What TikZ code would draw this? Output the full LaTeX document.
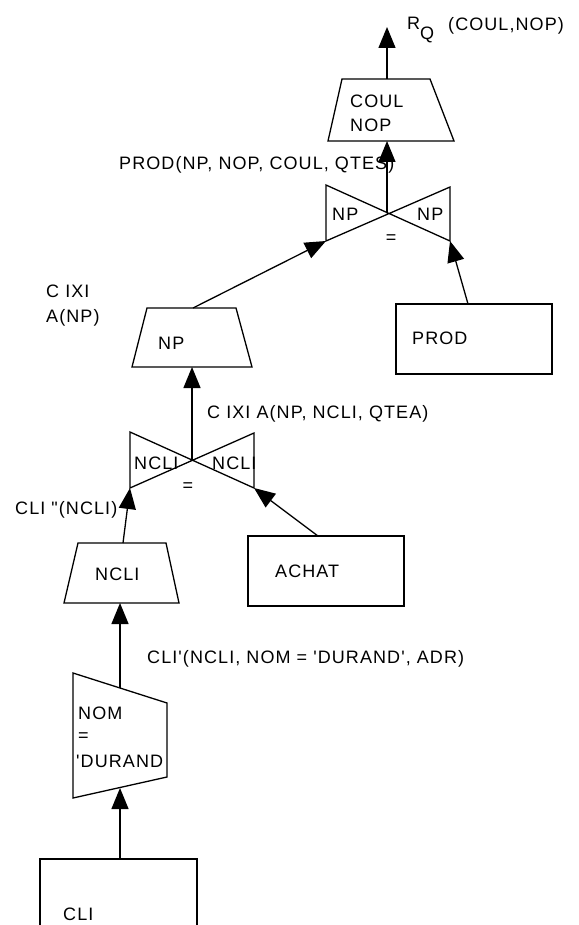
\documentclass[tikz,border=0pt]{standalone}
\usepackage{fontspec}
\setmainfont{Liberation Sans}[Ligatures=TeXOff,LetterSpace=6]
\usetikzlibrary{arrows.meta}
\begin{document}
\begin{tikzpicture}[x=1pt,y=-1pt,
  shp/.style={draw=black,line width=1.3pt,line join=miter},
  arr/.style={draw=black,line width=1.3pt,-{Triangle[length=21pt,width=17pt]}},
  lbl/.style={anchor=base west,inner sep=0pt,font=\fontsize{18}{21}\selectfont},
  eq/.style={anchor=center,inner sep=0pt,font=\fontsize{18}{21}\selectfont}]
\useasboundingbox (0,0) rectangle (578,925);
\clip (0,0) rectangle (578,925);
% coordinates
\coordinate (rq) at (387,27);
\coordinate (t1top) at (387,79);
\coordinate (t1bot) at (387,141);
\coordinate (j1) at (387,213);
\coordinate (j1l) at (326,241);
\coordinate (j1r) at (450,241);
\coordinate (t2top) at (193,308);
\coordinate (t2bot) at (192,367);
\coordinate (prodtop) at (468,304);
\coordinate (j2) at (192,460);
\coordinate (j2l) at (130,488);
\coordinate (j2r) at (254,488);
\coordinate (t3top) at (123,543);
\coordinate (t3bot) at (120,603);
\coordinate (achattop) at (318,536);
\coordinate (stop) at (120,688);
\coordinate (sbot) at (120,788);
\coordinate (clitop) at (120,859);
% shapes
\draw[shp] (342,79) -- (430,79) -- (454,141) -- (328,141) -- cycle;
\draw[shp] (326,185) -- (450,241) -- (450,187) -- (326,241) -- cycle;
\draw[shp] (147,308) -- (236,308) -- (252,367) -- (132,367) -- cycle;
\draw[shp] (396,304) rectangle (552,374);
\draw[shp] (130,432) -- (254,488) -- (254,433) -- (130,488) -- cycle;
\draw[shp] (78,543) -- (166,543) -- (179,603) -- (64,603) -- cycle;
\draw[shp] (248,536) rectangle (404,606);
\draw[shp] (73,673) -- (167,703) -- (167,777) -- (73,798) -- cycle;
\draw[shp] (40,940) -- (40,859) -- (197,859) -- (197,940);
% connectors
\draw[arr] (t1top) -- (rq);
\draw[arr] (j1) -- (t1bot);
\draw[arr] (t2top) -- (j1l);
\draw[arr] (prodtop) -- (j1r);
\draw[arr] (j2) -- (t2bot);
\draw[arr] (t3top) -- (j2l);
\draw[arr] (achattop) -- (j2r);
\draw[arr] (stop) -- (t3bot);
\draw[arr] (clitop) -- (sbot);
% texts
\node[lbl] (rqlbl) at (407,30) {R\raisebox{-10pt}{Q}};
\node[lbl] (rqattr) at (448,31) {(COUL,NOP)};
\node[lbl] (coul) at (350,108) {COUL};
\node[lbl] (nop) at (350,132) {NOP};
\node[lbl] (prodrel) at (119,170) {PROD(NP, NOP, COUL, QTES)};
\node[lbl] (j1lnp) at (332,221) {NP};
\node[lbl] (j1rnp) at (417,221) {NP};
\node[eq] (j1eq) at (391,239) {=};
\node[lbl] (cixi1) at (46,297) {C IXI};
\node[lbl] (cixi2) at (46,322) {A(NP)};
\node[lbl] (nplbl) at (158,349) {NP};
\node[lbl] (prodlbl) at (412,344) {PROD};
\node[lbl] (cixirel) at (207,418) {C IXI A(NP, NCLI, QTEA)};
\node[lbl] (j2lncli) at (134,469) {NCLI};
\node[lbl] (j2rncli) at (212,469) {NCLI};
\node[eq] (j2eq) at (188,487) {=};
\node[lbl] (clipp) at (15,514) {CLI "(NCLI)};
\node[lbl] (ncli) at (95,580) {NCLI};
\node[lbl] (achat) at (275,577) {ACHAT};
\node[lbl] (clip) at (147,663) {CLI'(NCLI, NOM = 'DURAND', ADR)};
\node[lbl] (nom) at (78,719) {NOM};
\node[eq,anchor=west] (nomeq) at (78,737) {=};
\node[lbl] (durand) at (76,767) {'DURAND};
\node[lbl] (cli) at (63,920) {CLI};
\end{tikzpicture}
\end{document}
